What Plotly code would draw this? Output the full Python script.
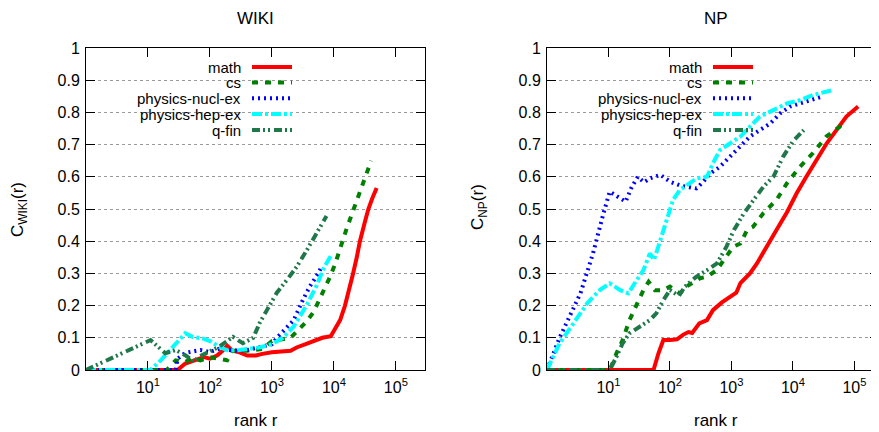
import plotly.graph_objects as go

# page offset of the figure (browser body margin) and figure size so it fits the 879x432 window
OFF = 8
W, H = 879 - OFF, 432 - OFF

# ---------------- data (rank r, C(r)) ----------------
# WIKI panel
wiki_math_r = [1, 30, 40, 60, 80, 100, 130, 160, 190, 230, 300, 400, 550, 700, 1000, 2000, 2500, 3500, 5000, 6500, 8900, 10000, 12600, 15100, 17800, 20400, 23400, 26300, 31600, 36000, 42000, 49000]
wiki_math_c = [0, 0, 0.02, 0.03, 0.04, 0.035, 0.045, 0.06, 0.075, 0.06, 0.055, 0.045, 0.045, 0.05, 0.055, 0.06, 0.07, 0.08, 0.09, 0.1, 0.105, 0.12, 0.155, 0.2, 0.25, 0.3, 0.35, 0.4, 0.46, 0.5, 0.535, 0.565]

wiki_cs_r = [1, 20, 28, 40, 50, 70, 100, 150, 190, 230, 400, 700, 1000, 2000, 2500, 3600, 4700, 5600, 7000, 8700, 10500, 12600, 15800, 20000, 26000, 33000, 40000]
wiki_cs_c = [0, 0, 0.03, 0.025, 0.035, 0.03, 0.04, 0.035, 0.03, 0.06, 0.06, 0.065, 0.09, 0.1, 0.12, 0.15, 0.18, 0.21, 0.25, 0.29, 0.33, 0.38, 0.435, 0.49, 0.55, 0.61, 0.65]

wiki_nucl_r = [1, 28, 30, 40, 70, 100, 150, 230, 400, 630, 1000, 1200, 1750, 2250, 3200, 4100, 5600, 6300]
wiki_nucl_c = [0, 0, 0.035, 0.053, 0.062, 0.056, 0.068, 0.06, 0.062, 0.07, 0.08, 0.1, 0.135, 0.155, 0.22, 0.26, 0.3, 0.32]

wiki_hep_r = [1, 11, 16, 22, 33, 40, 52, 76, 105, 140, 200, 300, 630, 1000, 1500, 2250, 3600, 5200, 7000, 9100]
wiki_hep_c = [0, 0, 0.03, 0.06, 0.1, 0.114, 0.103, 0.098, 0.088, 0.072, 0.06, 0.062, 0.07, 0.08, 0.1, 0.135, 0.2, 0.26, 0.32, 0.357]

wiki_qfin_r = [1, 11, 19, 28, 40, 55, 65, 105, 140, 235, 340, 500, 630, 830, 1200, 1750, 2500, 3600, 5200, 7600]
wiki_qfin_c = [0, 0.093, 0.052, 0.062, 0.046, 0.026, 0.04, 0.062, 0.072, 0.103, 0.083, 0.1, 0.145, 0.186, 0.24, 0.28, 0.32, 0.37, 0.425, 0.478]

# NP panel
np_math_r = [1, 54, 65, 78, 100, 130, 165, 200, 230, 300, 400, 500, 700, 950, 1200, 1400, 2000, 2600, 3700, 5400, 8000, 11500, 16500, 24500, 35500, 51000, 74000, 115000]
np_math_c = [0, 0, 0.052, 0.093, 0.093, 0.095, 0.11, 0.118, 0.115, 0.145, 0.155, 0.186, 0.21, 0.228, 0.24, 0.27, 0.3, 0.331, 0.383, 0.435, 0.49, 0.549, 0.6, 0.652, 0.704, 0.745, 0.787, 0.818]

np_cs_r = [1, 10.5, 13.5, 17, 22, 29, 37, 45, 57, 78, 100, 145, 185, 310, 400, 575, 830, 1070, 1400, 1800, 2250, 3300, 5400, 8000, 13000, 21000, 35000, 58000, 66000]
np_cs_c = [0, 0, 0.052, 0.093, 0.155, 0.207, 0.248, 0.274, 0.248, 0.248, 0.259, 0.238, 0.259, 0.285, 0.29, 0.31, 0.352, 0.383, 0.393, 0.435, 0.445, 0.487, 0.528, 0.58, 0.631, 0.673, 0.725, 0.756, 0.776]

np_nucl_r = [1, 1.6, 3.5, 5.6, 8.3, 10.5, 15, 19, 24, 30, 38, 47, 70, 100, 150, 220, 270, 350, 450, 650, 950, 1400, 2000, 2900, 4300, 6200, 9000, 13000, 19000, 31000]
np_nucl_c = [0, 0.1, 0.238, 0.362, 0.487, 0.554, 0.535, 0.523, 0.569, 0.6, 0.583, 0.595, 0.606, 0.585, 0.572, 0.567, 0.564, 0.585, 0.61, 0.631, 0.662, 0.693, 0.725, 0.745, 0.766, 0.797, 0.818, 0.828, 0.838, 0.85]

np_hep_r = [1, 1.6, 2.7, 4.5, 7.2, 10.5, 15.5, 21, 29, 37, 47, 55, 70, 90, 112, 145, 215, 270, 400, 500, 650, 950, 1400, 2000, 2900, 4800, 8000, 13000, 21000, 46000]
np_hep_c = [0, 0.083, 0.145, 0.207, 0.248, 0.269, 0.248, 0.238, 0.28, 0.31, 0.362, 0.342, 0.404, 0.476, 0.528, 0.559, 0.58, 0.595, 0.6, 0.642, 0.683, 0.704, 0.725, 0.756, 0.787, 0.807, 0.828, 0.838, 0.854, 0.87]

np_qfin_r = [1, 10.5, 13.5, 17, 22, 32, 47, 60, 78, 100, 140, 175, 270, 400, 580, 830, 1100, 1600, 2300, 3300, 4800, 6900, 10000, 15000]
np_qfin_c = [0, 0, 0.041, 0.083, 0.114, 0.135, 0.155, 0.176, 0.217, 0.248, 0.23, 0.259, 0.29, 0.31, 0.331, 0.383, 0.435, 0.487, 0.53, 0.569, 0.6, 0.662, 0.71, 0.745]

series_names = ["math", "cs", "physics-nucl-ex", "physics-hep-ex", "q-fin"]
x_tickvals = [10, 100, 1000, 10000, 100000]
x_ticktext = ["10<sup>1</sup>", "10<sup>2</sup>", "10<sup>3</sup>", "10<sup>4</sup>", "10<sup>5</sup>"]
y_tickvals = [0, 0.1, 0.2, 0.3, 0.4, 0.5, 0.6, 0.7, 0.8, 0.9, 1]
y_ticktext = ["0", "0.1", "0.2", "0.3", "0.4", "0.5", "0.6", "0.7", "0.8", "0.9", "1"]

# ---------------- styles ----------------
colors = ["#ff0000", "#008000", "#0000ff", "#00ffff", "#1f774a"]
dashes = ["solid", "6px,7px", "2px,4px", "10px,3px,3px,3px", "8px,3px,2px,3px,2px,4px"]
LW = 4
FONT = "Liberation Sans, Arial, sans-serif"

wiki = [(wiki_math_r, wiki_math_c), (wiki_cs_r, wiki_cs_c), (wiki_nucl_r, wiki_nucl_c),
        (wiki_hep_r, wiki_hep_c), (wiki_qfin_r, wiki_qfin_c)]
npd = [(np_math_r, np_math_c), (np_cs_r, np_cs_c), (np_nucl_r, np_nucl_c),
       (np_hep_r, np_hep_c), (np_qfin_r, np_qfin_c)]

fig = go.Figure()
for i, (r, c) in enumerate(wiki):
    fig.add_trace(go.Scatter(x=r, y=c, mode="lines", name=series_names[i], xaxis="x", yaxis="y",
                             line=dict(color=colors[i], width=LW, dash=dashes[i]), showlegend=False))
for i, (r, c) in enumerate(npd):
    fig.add_trace(go.Scatter(x=r, y=c, mode="lines", name=series_names[i], xaxis="x2", yaxis="y2",
                             line=dict(color=colors[i], width=LW, dash=dashes[i]), showlegend=False))


# window pixel -> paper fraction
def fx(px):
    return min(1.0, (px - OFF) / W)


def fy(py):
    return min(1.0, (H - (py - OFF)) / H)


dom_y = [fy(370), fy(48)]
axis_common = dict(showline=True, mirror="ticks", linecolor="black", linewidth=1,
                   ticks="inside", ticklen=9, tickcolor="black", tickwidth=1,
                   tickfont=dict(family=FONT, size=16, color="black"), zeroline=False,
                   automargin=False)

fig.update_layout(
    width=W, height=H, autosize=False, margin=dict(l=0, r=0, t=0, b=0, pad=0),
    paper_bgcolor="white", plot_bgcolor="white",
    font=dict(family=FONT, size=16, color="black"),
    xaxis=dict(type="log", domain=[fx(86), fx(425)], range=[0, 5.47], anchor="y",
               tickvals=x_tickvals, ticktext=x_ticktext, showgrid=False,
               ticklabelstandoff=3, **axis_common),
    yaxis=dict(domain=dom_y, range=[0, 1], anchor="x", tickvals=y_tickvals, ticktext=y_ticktext,
               showgrid=True, gridcolor="#9a9a9a", griddash="dot", gridwidth=1,
               ticklabelstandoff=2, **axis_common),
    xaxis2=dict(type="log", domain=[fx(547), 1.0], range=[0, 5.40], anchor="y2",
                tickvals=x_tickvals, ticktext=x_ticktext, showgrid=False,
                ticklabelstandoff=3, **axis_common),
    yaxis2=dict(domain=dom_y, range=[0, 1], anchor="x2", tickvals=y_tickvals, ticktext=y_ticktext,
                showgrid=True, gridcolor="#9a9a9a", griddash="dot", gridwidth=1,
                ticklabelstandoff=2, **axis_common),
)

shapes = []
annotations = []

# white key boxes hiding grid lines
for (x0, x1) in [(96, 300), (557, 760)]:
    shapes.append(dict(type="rect", xref="paper", yref="paper", x0=fx(x0), x1=fx(x1),
                       y0=fy(370 - 0.72 * 322), y1=fy(370 - 0.97 * 322),
                       fillcolor="white", line=dict(width=0), layer="between"))

# keys
row_py = [67, 82.5, 98.2, 114, 130]
for (text_right, s0, s1) in [(242, 252, 292), (702.5, 713, 753)]:
    for i, name in enumerate(series_names):
        annotations.append(dict(xref="paper", yref="paper", x=fx(text_right), y=fy(row_py[i]),
                                text=name, showarrow=False, xanchor="right", yanchor="middle",
                                borderpad=0, font=dict(family=FONT, size=15, color="black")))
        shapes.append(dict(type="line", xref="paper", yref="paper", x0=fx(s0), x1=fx(s1),
                           y0=fy(row_py[i]), y1=fy(row_py[i]),
                           line=dict(color=colors[i], width=LW, dash=dashes[i]), layer="above"))

# panel titles (anchored at the top edge of the page so they are not clipped)
for (txt, x) in [("WIKI", 255.5), ("NP", 716)]:
    annotations.append(dict(xref="paper", yref="paper", x=fx(x), y=fy(OFF), text=txt, showarrow=False,
                            xanchor="center", yanchor="top", borderpad=0,
                            font=dict(family=FONT, size=17, color="black")))

# axis labels
for (txt, x, y, ang) in [("rank r", 256, 420, 0), ("rank r", 716, 420, 0),
                         ("C<sub>WIKI</sub>(r)", 19, 210, -90), ("C<sub>NP</sub>(r)", 479, 207, -90)]:
    annotations.append(dict(xref="paper", yref="paper", x=fx(x), y=fy(y), text=txt, showarrow=False,
                            xanchor="center", yanchor="middle", textangle=ang, borderpad=0,
                            font=dict(family=FONT, size=17, color="black")))

fig.update_layout(shapes=shapes, annotations=annotations)
fig.write_html("out.html")
